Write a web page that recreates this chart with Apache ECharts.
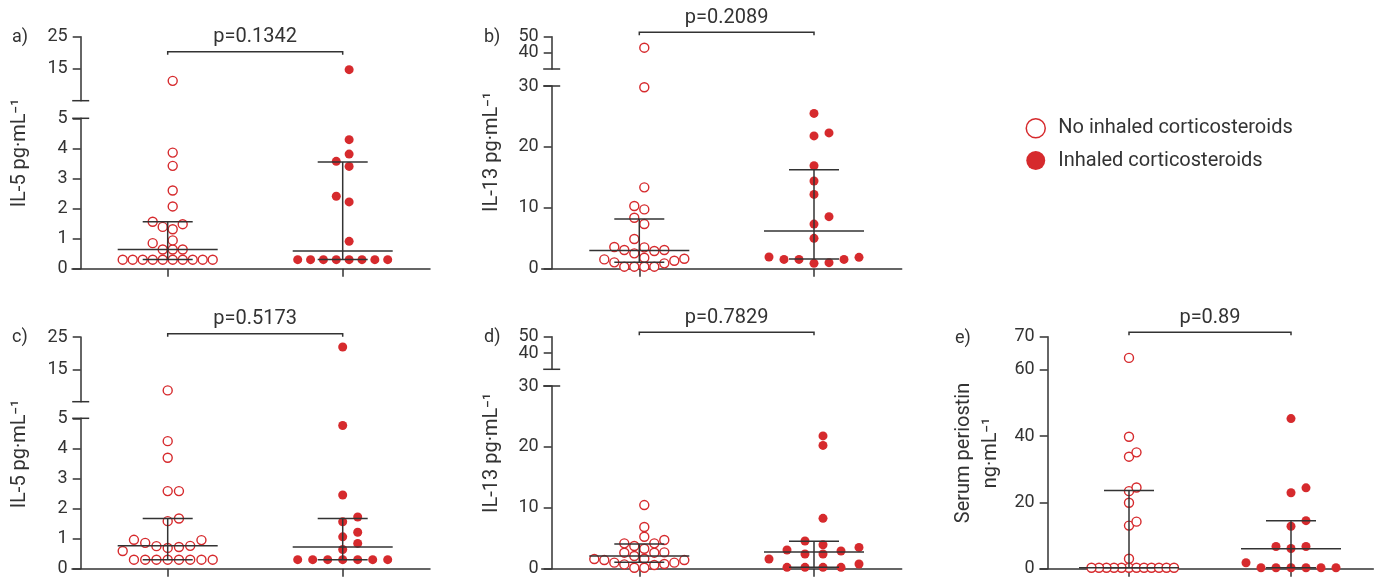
<!DOCTYPE html>
<html>
<head>
<meta charset="utf-8">
<script src="https://cdn.jsdelivr.net/npm/echarts@6/dist/echarts.min.js"></script>
<style>
  html, body { margin: 0; padding: 0; background: #ffffff; }
  #chart { width: 1380px; height: 581px; }
</style>
</head>
<body>
<div id="chart"></div>
<script>
// ---- data ---------------------------------------------------------------
const groupNames = ['No inhaled corticosteroids', 'Inhaled corticosteroids'];
const pValues = ['p=0.1342', 'p=0.2089', 'p=0.5173', 'p=0.7829', 'p=0.89'];
const panelLetters = ['a)', 'b)', 'c)', 'd)', 'e)'];
const axisTitles = ['IL-5 pg·mL⁻¹', 'IL-13 pg·mL⁻¹', 'IL-5 pg·mL⁻¹', 'IL-13 pg·mL⁻¹', 'Serum periostin\nng·mL⁻¹'];

// tick labels of the broken axes (lower / upper segment)
const il5LowTicks = [0, 1, 2, 3, 4, 5];
const il5HighTicks = [15, 25];
const il13LowTicks = [0, 10, 20, 30];
const il13HighTicks = [40, 50];
const periostinTicks = [0, 20, 40, 60, 70];

// a) IL-5, first sampling
const aNoIcs = [0.3, 0.3, 0.3, 0.3, 0.3, 0.3, 0.3, 0.3, 0.3, 0.3, 0.64, 0.64, 0.64, 0.85, 0.94, 1.31, 1.39, 1.48, 1.56, 2.07, 2.6, 3.42, 3.86, 11.2];
const aIcs = [0.3, 0.3, 0.3, 0.3, 0.3, 0.3, 0.3, 0.3, 0.91, 2.22, 2.41, 3.4, 3.57, 3.81, 4.29, 14.7];
// b) IL-13, first sampling
const bNoIcs = [0.33, 0.33, 0.33, 0.33, 0.88, 1.04, 1.31, 1.53, 1.64, 1.8, 2.52, 2.9, 3.07, 3.07, 3.5, 3.56, 4.87, 7.33, 8.37, 9.74, 10.3, 13.36, 29.8, 43.2];
const bIcs = [0.88, 0.99, 1.53, 1.53, 1.53, 1.86, 1.92, 4.98, 7.33, 8.54, 12.2, 14.4, 16.9, 21.8, 22.3, 25.5];
// c) IL-5, second sampling
const cNoIcs = [0.3, 0.3, 0.3, 0.3, 0.3, 0.3, 0.3, 0.3, 0.59, 0.69, 0.72, 0.75, 0.76, 0.86, 0.95, 0.96, 1.58, 1.67, 2.58, 2.58, 3.69, 4.24, 8.5];
const cIcs = [0.3, 0.3, 0.3, 0.3, 0.3, 0.3, 0.3, 0.64, 0.84, 1.06, 1.21, 1.56, 1.72, 2.45, 4.76, 21.9];
// d) IL-13, second sampling
const dNoIcs = [0.16, 0.16, 0.6, 0.71, 0.77, 0.99, 0.99, 1.42, 1.42, 1.59, 1.64, 2.08, 2.63, 2.63, 2.68, 3.28, 3.72, 4.16, 4.16, 4.71, 5.25, 6.84, 10.45];
const dIcs = [0.22, 0.22, 0.22, 0.22, 0.77, 1.59, 2.41, 2.41, 2.9, 3.07, 3.5, 3.94, 4.54, 8.27, 20.25, 21.8];
// e) serum periostin
const eNoIcs = [0.3, 0.3, 0.3, 0.3, 0.3, 0.3, 0.3, 0.3, 0.3, 0.3, 0.3, 0.3, 3.0, 13.0, 14.2, 19.9, 23.4, 24.5, 33.8, 35.1, 39.8, 63.6];
const eIcs = [0.3, 0.3, 0.3, 0.3, 0.3, 0.3, 1.8, 6.1, 6.7, 6.7, 12.8, 14.5, 22.9, 24.4, 45.3];

// median and interquartile range: [lower quartile, median, upper quartile]
const aNoIcsIqr = [0.31, 0.64, 1.56];
const aIcsIqr = [0.31, 0.59, 3.55];
const bNoIcsIqr = [1.05, 3.0, 8.16];
const bIcsIqr = [1.59, 6.19, 16.26];
const cNoIcsIqr = [0.3, 0.76, 1.67];
const cIcsIqr = [0.3, 0.72, 1.67];
const dNoIcsIqr = [1.04, 2.08, 4.05];
const dIcsIqr = [0.22, 2.74, 4.49];
const eNoIcsIqr = [0.3, 0.3, 23.6];
const eIcsIqr = [0.3, 6.03, 14.5];

// ---- styling / layout ---------------------------------------------------
const RED = '#d62a2d';
const INK = '#333333';
const FONT = 'Roboto';
const DOT = 9;          // marker diameter (px)
const SPREAD = 90;      // width of the widest dot row (px)
const LABEL_MARGIN = 13;

const panels = [
  { groups: [aNoIcs, aIcs], iqr: [aNoIcsIqr, aIcsIqr],
    x0: 72, x1: 430, axisX: 80.7, cats: [167.7, 342.7],
    segments: [{ min: 0, max: 5, top: 118.3, bottom: 268.7, ticks: il5LowTicks },
               { min: 5, max: 25, top: 36.7, bottom: 100.7, ticks: il5HighTicks }],
    bracketY: 51.7, pTextY: 37.3, letterX: 12, letterY: 37, titleX: 20, titleY: 153 },
  { groups: [bNoIcs, bIcs], iqr: [bNoIcsIqr, bIcsIqr],
    x0: 541.7, x1: 901.7, axisX: 551.7, cats: [639.3, 814],
    segments: [{ min: 0, max: 30, top: 86, bottom: 268.7, ticks: il13LowTicks },
               { min: 30, max: 50, top: 36.7, bottom: 69, ticks: il13HighTicks }],
    bracketY: 32.3, pTextY: 18.3, letterX: 484, letterY: 37, titleX: 492, titleY: 152 },
  { groups: [cNoIcs, cIcs], iqr: [cNoIcsIqr, cIcsIqr],
    x0: 72, x1: 430, axisX: 80.7, cats: [167.7, 342.7],
    segments: [{ min: 0, max: 5, top: 418.3, bottom: 568.7, ticks: il5LowTicks },
               { min: 5, max: 25, top: 337, bottom: 401.7, ticks: il5HighTicks }],
    bracketY: 333.7, pTextY: 319.3, letterX: 12, letterY: 337, titleX: 20, titleY: 454 },
  { groups: [dNoIcs, dIcs], iqr: [dNoIcsIqr, dIcsIqr],
    x0: 541.7, x1: 901.7, axisX: 551.7, cats: [639.3, 814],
    segments: [{ min: 0, max: 30, top: 386, bottom: 568.7, ticks: il13LowTicks },
               { min: 30, max: 50, top: 336.7, bottom: 369.3, ticks: il13HighTicks }],
    bracketY: 332.3, pTextY: 318.3, letterX: 484, letterY: 337, titleX: 492, titleY: 453 },
  { groups: [eNoIcs, eIcs], iqr: [eNoIcsIqr, eIcsIqr],
    x0: 1040, x1: 1373.3, axisX: 1047.7, cats: [1129, 1291],
    segments: [{ min: 0, max: 70, top: 336.7, bottom: 568.7, ticks: periostinTicks }],
    bracketY: 332.3, pTextY: 318, letterX: 955, letterY: 338, titleX: 977, titleY: 453 }
];

const axisLineStyle = { color: INK, width: 1.5 };
const textBase = { fontFamily: FONT, fill: INK };

const grid = [], xAxis = [], yAxis = [], series = [];

panels.forEach((pl, pi) => {
  const ppu = pl.cats[1] - pl.cats[0];
  const xmin = 1 - (pl.cats[0] - pl.x0) / ppu;
  const xmax = 2 + (pl.x1 - pl.cats[1]) / ppu;
  pl.segments.forEach((sg, si) => {
    const gi = grid.length;
    sg.gi = gi;
    grid.push({ left: pl.x0, top: sg.top, width: pl.x1 - pl.x0, height: sg.bottom - sg.top });
    xAxis.push({
      gridIndex: gi, type: 'value', min: xmin, max: xmax, show: si === 0,
      axisLine: { show: true, onZero: false, lineStyle: axisLineStyle },
      axisTick: { show: true, customValues: [1, 2], length: 8, lineStyle: axisLineStyle },
      axisLabel: { show: false },
      splitLine: { show: false }
    });
    // the short upper segments carry closely spaced labels; those are drawn as text below
    yAxis.push({
      gridIndex: gi, type: 'value', min: sg.min, max: sg.max,
      offset: -(pl.axisX - pl.x0),
      axisLine: { show: true, onZero: false, lineStyle: axisLineStyle },
      axisTick: { show: true, length: 8, customValues: sg.ticks, lineStyle: axisLineStyle },
      axisLabel: {
        show: si === 0, customValues: sg.ticks, margin: LABEL_MARGIN, fontSize: 18, color: INK, fontFamily: FONT,
        hideOverlap: false, showMinLabel: true, showMaxLabel: true
      },
      splitLine: { show: false }
    });
  });

  // one scatter series per group and axis segment
  pl.series = [];
  pl.groups.forEach((vals, g) => {
    pl.segments.forEach((sg, si) => {
      const lower = si === 0;
      const pts = vals.filter(v => lower ? v <= sg.max : v > pl.segments[0].max).map(v => [g + 1, v]);
      const s = {
        type: 'scatter', name: groupNames[g], xAxisIndex: sg.gi, yAxisIndex: sg.gi,
        symbol: 'circle', symbolSize: DOT, z: 2, data: pts,
        itemStyle: g === 0
          ? { color: '#ffffff', borderColor: RED, borderWidth: 1.4, opacity: 1 }
          : { color: RED, opacity: 1 },
        emphasis: { disabled: true }
      };
      pl.series.push({ s, seg: sg, group: g });
      series.push(s);
    });
  });

  // median with interquartile range
  const base = pl.segments[0];
  series.push({
    type: 'custom', xAxisIndex: base.gi, yAxisIndex: base.gi, z: 5, clip: false,
    encode: { x: 0, y: [1, 2, 3] },
    data: pl.iqr.map((q, g) => [g + 1, q[0], q[1], q[2]]),
    renderItem: (params, api) => {
      const c = api.value(0);
      const q1 = api.coord([c, api.value(1)]);
      const md = api.coord([c, api.value(2)]);
      const q3 = api.coord([c, api.value(3)]);
      const st = { stroke: INK, lineWidth: 1.5 };
      return {
        type: 'group', children: [
          { type: 'line', shape: { x1: md[0] - 50, y1: md[1], x2: md[0] + 50, y2: md[1] }, style: st },
          { type: 'line', shape: { x1: q1[0] - 25, y1: q1[1], x2: q1[0] + 25, y2: q1[1] }, style: st },
          { type: 'line', shape: { x1: q3[0] - 25, y1: q3[1], x2: q3[0] + 25, y2: q3[1] }, style: st },
          { type: 'line', shape: { x1: q1[0], y1: q1[1], x2: q3[0], y2: q3[1] }, style: st }
        ]
      };
    }
  });
});

const chart = echarts.init(document.getElementById('chart'), null, { renderer: 'canvas' });
chart.setOption({
  animation: false,
  backgroundColor: '#ffffff',
  textStyle: { fontFamily: FONT },
  grid, xAxis, yAxis, series,
  legend: {
    data: groupNames, orient: 'vertical', left: 1020.5, top: 113,
    itemWidth: 19, itemHeight: 19, itemGap: 12, icon: 'circle',
    itemStyle: { borderWidth: 1.5, opacity: 1 },
    textStyle: { fontSize: 20, color: INK, fontFamily: FONT, lineHeight: 20, padding: [0, 0, 0, 8] }
  }
});

// beeswarm: spread dots horizontally on a slot grid so they do not overlap
function swarmOffsets(ys) {
  const idx = ys.map((_, i) => i).sort((i, j) => ys[j] - ys[i]);
  let n = 1;
  for (let s = 0, e = 0; e < idx.length; e++) {
    while (ys[idx[s]] - ys[idx[e]] >= DOT) s++;
    n = Math.max(n, e - s + 1);
  }
  const step = n > 1 ? SPREAD / (n - 1) : 0;
  const slots = [];
  for (let k = 0; k < n; k++) slots.push((k - (n - 1) / 2) * step);
  slots.sort((p, q) => Math.abs(p) - Math.abs(q) || q - p);
  const gap = n > 1 ? Math.min(DOT, step) * 0.97 : DOT;
  const placed = [];
  const out = new Array(ys.length).fill(0);
  idx.forEach(i => {
    let chosen = null, fallback = slots[0], bestD = -1;
    for (const sx of slots) {
      let dmin = Infinity;
      for (const p of placed) dmin = Math.min(dmin, Math.hypot(p[0] - sx, p[1] - ys[i]));
      if (dmin >= gap) { chosen = sx; break; }
      if (dmin > bestD) { bestD = dmin; fallback = sx; }
    }
    const x = chosen === null ? fallback : chosen;
    placed.push([x, ys[i]]);
    out[i] = x;
  });
  return out;
}

const graphics = [];
panels.forEach((pl, pi) => {
  pl.groups.forEach((vals, g) => {
    const items = [];
    pl.series.filter(o => o.group === g).forEach(o => {
      o.s.data.forEach((d, k) => {
        const px = chart.convertToPixel({ gridIndex: o.seg.gi }, d);
        items.push({ o, k, px });
      });
    });
    const offs = swarmOffsets(items.map(it => it.px[1]));
    items.forEach((it, j) => {
      const nx = chart.convertFromPixel({ gridIndex: it.o.seg.gi }, [it.px[0] + offs[j], it.px[1]])[0];
      it.o.s.data[it.k] = [nx, it.o.s.data[it.k][1]];
    });
  });

  const base = pl.segments[0];
  const c1 = chart.convertToPixel({ xAxisIndex: base.gi }, 1);
  const c2 = chart.convertToPixel({ xAxisIndex: base.gi }, 2);

  // significance bracket and p value
  graphics.push({
    type: 'polyline', silent: true,
    shape: { points: [[c1, pl.bracketY + 3], [c1, pl.bracketY], [c2, pl.bracketY], [c2, pl.bracketY + 3]] },
    style: { stroke: INK, lineWidth: 1.5, fill: null }
  });
  graphics.push({
    type: 'text', silent: true, x: (c1 + c2) / 2, y: pl.pTextY,
    style: Object.assign({ text: pValues[pi], fontSize: 20, align: 'center', verticalAlign: 'middle' }, textBase)
  });

  // panel letter and axis title
  graphics.push({
    type: 'text', silent: true, x: pl.letterX, y: pl.letterY,
    style: Object.assign({ text: panelLetters[pi], fontSize: 18, align: 'left', verticalAlign: 'middle' }, textBase)
  });
  graphics.push({
    type: 'text', silent: true, x: pl.titleX, y: pl.titleY, rotation: Math.PI / 2,
    style: Object.assign({ text: axisTitles[pi], fontSize: 20, lineHeight: 27, align: 'center', verticalAlign: 'middle' }, textBase)
  });

  // upper segment: tick labels and axis break marks
  if (pl.segments.length > 1) {
    const up = pl.segments[1];
    up.ticks.forEach(t => graphics.push({
      type: 'text', silent: true,
      x: pl.axisX - LABEL_MARGIN,
      y: chart.convertToPixel({ yAxisIndex: up.gi }, t),
      style: Object.assign({ text: String(t), fontSize: 18, align: 'right', verticalAlign: 'middle' }, textBase)
    }));
    const lowTop = chart.convertToPixel({ yAxisIndex: base.gi }, base.max);
    const upBottom = chart.convertToPixel({ yAxisIndex: up.gi }, up.min);
    [lowTop, upBottom].forEach(y => graphics.push({
      type: 'line', silent: true,
      shape: { x1: pl.axisX - 8.5, y1: y, x2: pl.axisX + 8.5, y2: y },
      style: { stroke: INK, lineWidth: 1.5 }
    }));
  }
});

chart.setOption({ series, graphic: { elements: graphics } });
</script>
</body>
</html>
